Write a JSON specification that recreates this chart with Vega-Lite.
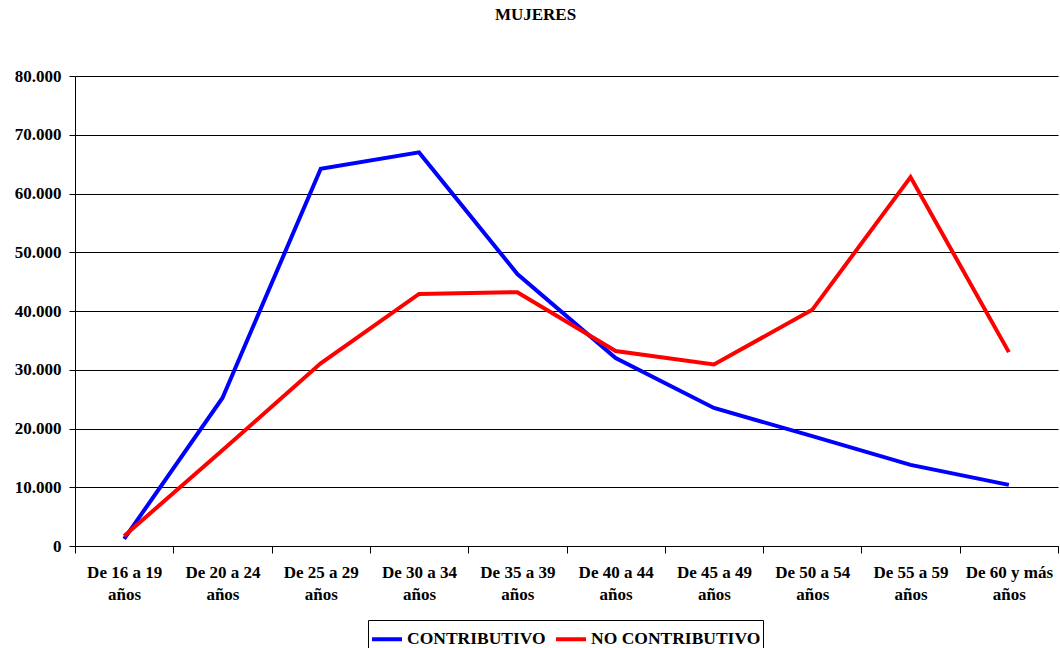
{
  "$schema": "https://vega.github.io/schema/vega-lite/v6.json",
  "width": 983,
  "height": 470,
  "autosize": {"type": "none"},
  "padding": {"left": 75, "top": 76, "right": 2, "bottom": 102},
  "background": "white",
  "title": {
    "text": "MUJERES",
    "font": "Liberation Serif",
    "fontSize": 17,
    "fontWeight": "bold",
    "color": "black",
    "anchor": "middle",
    "dx": -31,
    "offset": 43
  },
  "data": {
    "values": [
      {"edad": "De 16 a 19 años", "tipo": "CONTRIBUTIVO", "valor": 1200},
      {"edad": "De 20 a 24 años", "tipo": "CONTRIBUTIVO", "valor": 25200},
      {"edad": "De 25 a 29 años", "tipo": "CONTRIBUTIVO", "valor": 64200},
      {"edad": "De 30 a 34 años", "tipo": "CONTRIBUTIVO", "valor": 67000},
      {"edad": "De 35 a 39 años", "tipo": "CONTRIBUTIVO", "valor": 46300},
      {"edad": "De 40 a 44 años", "tipo": "CONTRIBUTIVO", "valor": 32000},
      {"edad": "De 45 a 49 años", "tipo": "CONTRIBUTIVO", "valor": 23500},
      {"edad": "De 50 a 54 años", "tipo": "CONTRIBUTIVO", "valor": 18700},
      {"edad": "De 55 a 59 años", "tipo": "CONTRIBUTIVO", "valor": 13800},
      {"edad": "De 60 y más años", "tipo": "CONTRIBUTIVO", "valor": 10400},
      {"edad": "De 16 a 19 años", "tipo": "NO CONTRIBUTIVO", "valor": 1700},
      {"edad": "De 20 a 24 años", "tipo": "NO CONTRIBUTIVO", "valor": 16300},
      {"edad": "De 25 a 29 años", "tipo": "NO CONTRIBUTIVO", "valor": 31100},
      {"edad": "De 30 a 34 años", "tipo": "NO CONTRIBUTIVO", "valor": 42900},
      {"edad": "De 35 a 39 años", "tipo": "NO CONTRIBUTIVO", "valor": 43200},
      {"edad": "De 40 a 44 años", "tipo": "NO CONTRIBUTIVO", "valor": 33200},
      {"edad": "De 45 a 49 años", "tipo": "NO CONTRIBUTIVO", "valor": 30900},
      {"edad": "De 50 a 54 años", "tipo": "NO CONTRIBUTIVO", "valor": 40200},
      {"edad": "De 55 a 59 años", "tipo": "NO CONTRIBUTIVO", "valor": 62800},
      {"edad": "De 60 y más años", "tipo": "NO CONTRIBUTIVO", "valor": 33000}
    ]
  },
  "mark": {"type": "line", "strokeWidth": 4, "strokeJoin": "miter", "strokeCap": "butt"},
  "encoding": {
    "x": {
      "field": "edad",
      "type": "nominal",
      "sort": null,
      "scale": {"type": "band", "paddingInner": 0, "paddingOuter": 0},
      "axis": {
        "title": null,
        "labelAngle": 0,
        "labelFont": "Liberation Serif",
        "labelFontSize": 17,
        "labelFontWeight": "bold",
        "labelColor": "black",
        "labelLineHeight": 22,
        "labelPadding": 11,
        "labelExpr": "length(datum.label) > 5 ? [slice(datum.label, 0, -5), 'años'] : ''",
        "tickBand": "extent",
        "tickColor": "black",
        "tickSize": 7,
        "domainColor": "black",
        "domainWidth": 1,
        "grid": false
      }
    },
    "y": {
      "field": "valor",
      "type": "quantitative",
      "scale": {"domain": [0, 80000], "nice": false},
      "axis": {
        "title": null,
        "values": [0, 10000, 20000, 30000, 40000, 50000, 60000, 70000, 80000],
        "labelExpr": "replace(format(datum.value, ','), ',', '.')",
        "labelFont": "Liberation Serif",
        "labelFontSize": 17,
        "labelFontWeight": "bold",
        "labelColor": "black",
        "labelPadding": 8,
        "tickColor": "black",
        "tickSize": 6,
        "domainColor": "black",
        "grid": true,
        "gridColor": "black",
        "gridOpacity": 1,
        "gridWidth": 1
      }
    },
    "color": {
      "field": "tipo",
      "type": "nominal",
      "scale": {"domain": ["CONTRIBUTIVO", "NO CONTRIBUTIVO"], "range": ["#0000ff", "#ff0000"]},
      "legend": {
        "title": null,
        "orient": "none",
        "direction": "horizontal",
        "legendX": 293,
        "legendY": 544,
        "symbolType": "stroke",
        "symbolSize": 900,
        "symbolStrokeWidth": 4,
        "labelFont": "Liberation Serif",
        "labelFontSize": 17.5,
        "labelFontWeight": "bold",
        "labelColor": "black",
        "labelOffset": 3,
        "labelLimit": 400,
        "columnPadding": 2,
        "strokeColor": "black",
        "padding": 2,
        "fillColor": "white"
      }
    }
  },
  "config": {"view": {"stroke": null}}
}
